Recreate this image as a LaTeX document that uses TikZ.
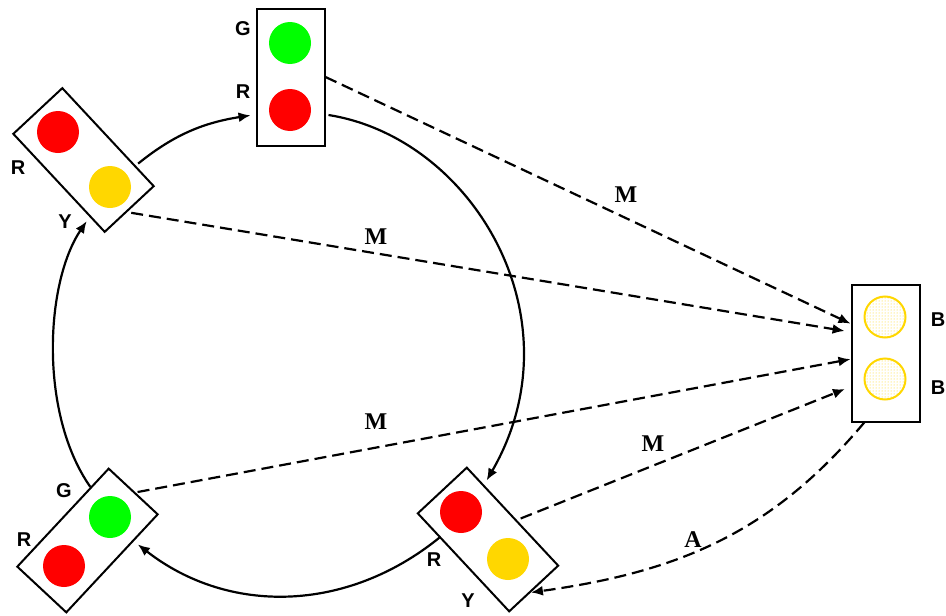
\documentclass[tikz,border=0pt]{standalone}
\usepackage{fontspec}
\setmainfont{Liberation Sans}
\newfontfamily\msgfont{Liberation Serif}
\usetikzlibrary{arrows.meta,patterns}
\definecolor{redcol}{RGB}{255,0,0}
\definecolor{greencol}{RGB}{0,255,0}
\definecolor{ambercol}{RGB}{255,215,0}

\begin{document}
\begin{tikzpicture}[
  x=1pt, y=-1pt,
  signal/.style={
    draw=black, line width=2pt, fill=white,
    minimum width=68pt, minimum height=137pt, inner sep=0pt
  },
  tilted/.style={signal, minimum width=67pt, minimum height=134pt},
  lamp/.style={circle, minimum size=42pt, inner sep=0pt},
  blink/.style={
    circle, draw=ambercol, line width=2pt, minimum size=41pt, inner sep=0pt,
    pattern=dots, pattern color=ambercol
  },
  state/.style={font=\fontsize{20}{22}\bfseries\selectfont, text=black},
  msg/.style={font=\fontsize{24}{26}\msgfont\bfseries\selectfont, text=black},
  ring/.style={draw=black, line width=2.2pt, -{Latex[length=12pt,width=10pt]}},
  link/.style={draw=black, line width=2.2pt, dash pattern=on 12pt off 6pt, -{Latex[length=12pt,width=10pt]}}
]
\useasboundingbox (0,0) rectangle (946,616);

%% ===================== Signal heads =============================
\node[signal]             (sigtop) at (290.5,77)  {};
\node[tilted, rotate=43]  (sigtl)  at (83.5,160)  {};
\node[tilted, rotate=-43] (sigbl)  at (87.5,540.5) {};
\node[tilted, rotate=43]  (sigbr)  at (488,539.5) {};
\node[signal]             (beacon) at (885.5,353) {};

%% ===================== Lamps ====================================
\node[lamp, fill=greencol] (topg) at (290,43)  {};
\node[lamp, fill=redcol]   (topr) at (290,110) {};
\node[lamp, fill=redcol]   (tlr)  at (58,132)  {};
\node[lamp, fill=ambercol] (tly)  at (110,187) {};
\node[lamp, fill=greencol] (blg)  at (110,517) {};
\node[lamp, fill=redcol]   (blr)  at (64,566)  {};
\node[lamp, fill=redcol]   (brr)  at (461,512) {};
\node[lamp, fill=ambercol] (bry)  at (508,559) {};
\node[blink] (bka) at (885,317) {};
\node[blink] (bkb) at (885,379) {};

%% ===================== Lamp letters =============================
\node[state] (ltopg) at (243,29)  {G};
\node[state] (ltopr) at (243,92)  {R};
\node[state] (ltlr)  at (18,168)  {R};
\node[state] (ltly)  at (65,222)  {Y};
\node[state] (lblg)  at (64,491)  {G};
\node[state] (lblr)  at (24,540)  {R};
\node[state] (lbrr)  at (434,560) {R};
\node[state] (lbry)  at (468,601) {Y};
\node[state] (lbka)  at (938,320) {B};
\node[state] (lbkb)  at (938,388) {B};

%% ===================== Ring =====================================
\draw[ring, shorten <=3pt, shorten >=5pt] (sigtop.-47) to[out=-9, in=60, out looseness=0.95, in looseness=1.22] (sigbr.51);
\draw[ring, shorten >=5pt] (sigbr.135) to[out=219, in=-38] (sigbl.42);
\draw[ring, shorten >=5pt] (sigbl.130) to[out=125, in=236, out looseness=0.85, in looseness=0.75] (sigtl.-127);
\draw[ring, shorten <=3pt, shorten >=5pt] (sigtl.-49) to[out=39, in=189] (sigtop.227);

%% ===================== Messages to the beacon ===================
\draw[link] (sigtop.east) -- (beacon.140);
\draw[link, shorten <=4pt, shorten >=6pt] (sigtl.-93) -- (beacon.149);
\draw[link, shorten <=2pt] (sigbl.88) -- (beacon.190);
\draw[link, shorten <=4pt, shorten >=6pt] (sigbr.-9) -- (beacon.224);
\draw[link] (beacon.253) to[out=-130, in=8] (sigbr.-94);

\node[msg] (msgtop) at (626,195) {M};
\node[msg] (msgtl)  at (376,237) {M};
\node[msg] (msgbl)  at (376,422) {M};
\node[msg] (msgbr)  at (653,444) {M};
\node[msg] (ack)    at (693,540) {A};

\end{tikzpicture}
\end{document}
